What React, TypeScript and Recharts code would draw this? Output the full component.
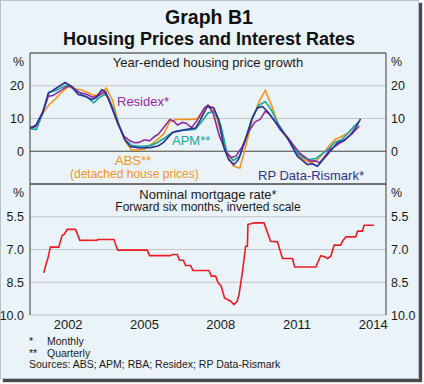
import React from 'react';
import {
  LineChart,
  Line,
  XAxis,
  YAxis,
  CartesianGrid,
  ReferenceLine,
} from 'recharts';

// [year, % change]
const rpData: [number, number][] = [
  [2001.0, 7.2], [2001.2, 7.5], [2001.5, 11.8], [2001.72, 17.8], [2001.88, 18.5],
  [2002.12, 19.7], [2002.38, 21.0], [2002.6, 20.0], [2002.9, 17.3], [2003.18, 16.7],
  [2003.43, 15.8], [2003.61, 16.4], [2003.82, 18.8], [2003.97, 18.2], [2004.09, 15.8],
  [2004.48, 8.1], [2004.72, 3.6], [2004.95, 1.4], [2005.35, 1.0], [2005.74, 1.1],
  [2006.06, 1.7], [2006.25, 2.7], [2006.6, 5.7], [2007.12, 6.6], [2007.51, 7.1],
  [2007.71, 9.7], [2007.97, 13.7], [2008.22, 13.3], [2008.42, 9.7], [2008.63, 1.0],
  [2008.81, -2.5], [2009.02, -4.1], [2009.2, -2.5], [2009.48, 3.6], [2009.72, 9.7],
  [2009.94, 13.2], [2010.14, 13.7], [2010.33, 12.2], [2010.73, 8.1], [2011.12, 4.1],
  [2011.52, -1.6], [2011.91, -4.1], [2012.1, -3.8], [2012.3, -4.6], [2012.43, -3.4],
  [2012.7, -1.0], [2013.09, 2.6], [2013.35, 3.2], [2013.61, 5.1], [2013.81, 7.2],
  [2014.0, 9.9],
];

const apmData: [number, number][] = [
  [2001.0, 7.0], [2001.25, 6.6], [2001.5, 11.5], [2001.75, 18.0], [2002.0, 18.5],
  [2002.25, 19.5], [2002.5, 20.3], [2002.75, 19.2], [2003.0, 17.6], [2003.25, 16.5],
  [2003.5, 14.8], [2003.75, 16.5], [2004.0, 17.6], [2004.25, 13.5], [2004.5, 8.0],
  [2004.75, 3.5], [2005.0, 1.8], [2005.25, 1.5], [2005.5, 1.5], [2005.75, 1.8],
  [2006.0, 2.6], [2006.25, 3.8], [2006.5, 5.2], [2006.75, 6.2], [2007.0, 6.4],
  [2007.25, 6.5], [2007.5, 6.7], [2007.75, 9.0], [2008.0, 11.7], [2008.25, 12.2],
  [2008.5, 8.0], [2008.75, -0.5], [2009.0, -2.9], [2009.25, -1.5], [2009.5, 4.5],
  [2009.75, 10.5], [2010.0, 14.0], [2010.25, 15.2], [2010.5, 12.5], [2010.75, 8.5],
  [2011.0, 5.5], [2011.25, 3.0], [2011.5, -0.5], [2011.75, -2.0], [2012.0, -2.5],
  [2012.25, -2.2], [2012.5, -0.7], [2012.75, 0.8], [2013.0, 2.8], [2013.25, 3.5],
  [2013.5, 5.5], [2013.75, 7.6], [2013.9, 8.8],
];

const absData: [number, number][] = [
  [2001.0, 7.2], [2001.25, 8.0], [2001.5, 11.5], [2001.75, 14.2], [2002.0, 16.0],
  [2002.25, 18.0], [2002.5, 19.7], [2002.75, 19.0], [2003.0, 18.8], [2003.25, 18.0],
  [2003.5, 17.0], [2003.75, 17.5], [2004.0, 19.3], [2004.25, 15.5], [2004.5, 8.0],
  [2004.75, 3.0], [2005.0, 0.3], [2005.25, 0.5], [2005.5, 0.6], [2005.75, 2.0],
  [2006.0, 3.5], [2006.25, 5.2], [2006.5, 9.0], [2006.75, 9.7], [2007.0, 9.7],
  [2007.25, 9.7], [2007.5, 9.8], [2007.75, 10.7], [2008.0, 14.2], [2008.25, 12.4],
  [2008.5, 6.0], [2008.75, -1.0], [2009.0, -4.5], [2009.25, -5.2], [2009.5, 2.0],
  [2009.75, 10.0], [2010.0, 15.0], [2010.25, 18.6], [2010.5, 14.0], [2010.75, 8.5],
  [2011.0, 5.0], [2011.25, 2.5], [2011.5, -1.0], [2011.75, -2.5], [2012.0, -3.5],
  [2012.25, -3.0], [2012.5, -1.0], [2012.75, 1.5], [2013.0, 3.6], [2013.25, 4.5],
  [2013.5, 5.5], [2013.75, 7.5], [2013.9, 8.6],
];

const residexData: [number, number][] = [
  [2001.0, 7.0], [2001.25, 8.0], [2001.5, 12.0], [2001.72, 16.8], [2001.9, 17.0],
  [2002.1, 18.0], [2002.4, 19.5], [2002.6, 20.0], [2002.9, 18.0], [2003.2, 17.5],
  [2003.45, 16.5], [2003.7, 17.0], [2003.9, 18.0], [2004.1, 16.0], [2004.45, 8.5],
  [2004.7, 4.5], [2004.95, 3.1], [2005.1, 2.6], [2005.3, 2.7], [2005.5, 3.5],
  [2005.7, 3.2], [2005.9, 4.5], [2006.05, 5.2], [2006.25, 7.2], [2006.5, 9.7],
  [2006.65, 9.2], [2006.8, 8.0], [2007.0, 8.8], [2007.15, 8.5], [2007.35, 7.2],
  [2007.55, 9.2], [2007.85, 13.2], [2008.0, 14.0], [2008.2, 11.7], [2008.45, 4.6],
  [2008.7, 0.0], [2008.9, -1.9], [2009.1, -1.5], [2009.35, 1.5], [2009.6, 6.0],
  [2009.85, 9.0], [2010.05, 9.7], [2010.25, 12.2], [2010.4, 11.5], [2010.6, 9.5],
  [2010.85, 6.5], [2011.1, 4.5], [2011.35, 2.0], [2011.6, -0.5], [2011.85, -2.0],
  [2012.0, -3.0], [2012.2, -2.9], [2012.4, -3.5], [2012.6, -1.5], [2012.8, 0.6],
  [2013.0, 1.5], [2013.2, 2.6], [2013.45, 4.0], [2013.65, 5.2], [2013.95, 7.7],
];

// nominal mortgage rate, forward six months
const mortgageData: [number, number][] = [
  [2001.54, 8.07], [2001.65, 7.6], [2001.71, 7.38], [2001.8, 6.89], [2002.13, 6.89],
  [2002.26, 6.36], [2002.35, 6.3], [2002.46, 6.08], [2002.79, 6.08], [2002.96, 6.58],
  [2003.64, 6.57], [2003.66, 6.54], [2004.3, 6.54], [2004.45, 7.03], [2005.61, 7.03],
  [2005.7, 7.28], [2006.53, 7.28], [2006.6, 7.23], [2006.79, 7.23], [2006.88, 7.49],
  [2007.03, 7.49], [2007.12, 7.73], [2007.31, 7.73], [2007.41, 7.96], [2008.04, 7.96],
  [2008.13, 8.22], [2008.3, 8.22], [2008.39, 8.5], [2008.52, 8.68], [2008.65, 9.22],
  [2008.89, 9.37], [2009.02, 9.52], [2009.15, 9.37], [2009.22, 9.06], [2009.35, 8.07],
  [2009.48, 6.85], [2009.55, 6.85], [2009.57, 5.85], [2009.68, 5.82], [2009.81, 5.78],
  [2010.2, 5.78], [2010.46, 6.62], [2010.73, 6.65], [2010.93, 7.41], [2011.32, 7.41],
  [2011.41, 7.8], [2012.24, 7.8], [2012.43, 7.28], [2012.59, 7.33], [2012.7, 7.41],
  [2012.83, 7.31], [2012.96, 6.8], [2013.22, 6.8], [2013.29, 6.62], [2013.42, 6.42],
  [2013.81, 6.42], [2013.88, 6.16], [2014.07, 6.16], [2014.14, 5.89], [2014.53, 5.89],
];

const yearDomain: [number, number] = [2001, 2015];
const yearTicks = [2002, 2003, 2004, 2005, 2006, 2007, 2008, 2009, 2010, 2011, 2012, 2013, 2014];
const yearLabels = [2002.5, 2005.5, 2008.5, 2011.5, 2014.5];
const growthTicks = [0, 10, 20, 30];
const rateTicks = [4, 5.5, 7, 8.5, 10];

const FONT = '"Liberation Sans", Arial, sans-serif';
const BORDER = '#3a3a3a';
const GRID = '#c4c4c4';

const toRows = (pts: [number, number][]) => pts.map(([year, value]) => ({ year, value }));

const makeTick = (topValue: number, fmt: (v: number) => string) => (props: any) => {
  const { x, y, payload, textAnchor } = props;
  const isTop = payload.value === topValue;
  return (
    <text
      x={x}
      y={isTop ? y + 8 : y}
      dy="0.36em"
      textAnchor={textAnchor}
      fontSize={12.5}
      fontFamily={FONT}
      fill="#1a1a1a"
    >
      {isTop ? '%' : fmt(payload.value)}
    </text>
  );
};

const UpTick = (props: any) => {
  const { x, y } = props;
  return <line x1={x} x2={x} y1={y} y2={y - 4} stroke={BORDER} strokeWidth={1} />;
};

const label = (
  text: string,
  left: number,
  top: number,
  size: number,
  color = '#1a1a1a',
  extra: React.CSSProperties = {}
) => (
  <div
    style={{
      position: 'absolute',
      left,
      top,
      fontSize: size,
      lineHeight: 1,
      color,
      fontFamily: FONT,
      whiteSpace: 'nowrap',
      ...extra,
    }}
  >
    {text}
  </div>
);

const series = [
  { key: 'abs', data: absData, color: '#f7941d' },
  { key: 'apm', data: apmData, color: '#14a89e' },
  { key: 'residex', data: residexData, color: '#8e2b9e' },
  { key: 'rp', data: rpData, color: '#2e3192' },
];

export default function App() {
  const growthTick = makeTick(30, (v) => String(v));
  const rateTick = makeTick(4, (v) => v.toFixed(1));

  return (
    <div style={{ position: 'absolute', left: 0, top: 0, width: 424, height: 384, background: '#ffffff' }}>
      <div
        style={{
          position: 'absolute',
          left: 0,
          top: 0,
          width: 417,
          height: 377,
          background: '#eaf3f8',
          border: '1px solid #b9c2c8',
          boxShadow: '3px 3px 1px #4a4a4a',
        }}
      />

      <div style={{ position: 'absolute', left: 0, top: 0 }}>
        <LineChart width={424} height={185} margin={{ top: 53, right: 0, bottom: 1, left: 0 }}>
          <CartesianGrid vertical={false} stroke={GRID} yAxisId="l" />
          <XAxis type="number" dataKey="year" domain={yearDomain} hide allowDataOverflow />
          <YAxis
            yAxisId="l"
            domain={[-10, 30]}
            ticks={growthTicks}
            width={30}
            tickLine={false}
            tickSize={4}
            tickMargin={2}
            axisLine={{ stroke: BORDER }}
            tick={growthTick}
            allowDataOverflow
          />
          <YAxis
            yAxisId="r"
            orientation="right"
            domain={[-10, 30]}
            ticks={growthTicks}
            width={38}
            tickLine={false}
            tickSize={3}
            tickMargin={2}
            axisLine={{ stroke: BORDER }}
            tick={growthTick}
            allowDataOverflow
          />
          <ReferenceLine yAxisId="l" y={0} stroke="#555" strokeWidth={1.2} />
          <ReferenceLine yAxisId="l" y={30} stroke={BORDER} />
          <ReferenceLine yAxisId="l" y={-10} stroke={BORDER} />
          {series.map((s) => (
            <Line
              key={s.key}
              yAxisId="l"
              data={toRows(s.data)}
              dataKey="value"
              type="linear"
              stroke={s.color}
              strokeWidth={1.6}
              dot={false}
              isAnimationActive={false}
            />
          ))}
        </LineChart>
      </div>

      <div style={{ position: 'absolute', left: 0, top: 0 }}>
        <LineChart width={424} height={384} margin={{ top: 184, right: 0, bottom: 49, left: 0 }}>
          <CartesianGrid vertical={false} stroke={GRID} yAxisId="l" xAxisId="tk" />
          <XAxis
            xAxisId="tk"
            type="number"
            dataKey="year"
            domain={yearDomain}
            ticks={yearTicks}
            height={0}
            mirror
            tick={false}
            tickLine={false}
            axisLine={{ stroke: BORDER }}
            allowDataOverflow
          />
          <XAxis
            xAxisId="lab"
            type="number"
            dataKey="year"
            domain={yearDomain}
            ticks={yearLabels}
            height={20}
            tickLine={false}
            axisLine={false}
            tickSize={4}
            tickMargin={1}
            tickFormatter={(v: number) => String(Math.floor(v))}
            tick={{ fontSize: 13, fontFamily: FONT, fill: '#1a1a1a' }}
            allowDataOverflow
          />
          <XAxis
            xAxisId="marks"
            type="number"
            dataKey="year"
            domain={yearDomain}
            ticks={yearTicks}
            height={0}
            mirror
            axisLine={false}
            tickLine={false}
            tick={<UpTick />}
            allowDataOverflow
          />
          <YAxis
            yAxisId="l"
            reversed
            domain={[4, 10]}
            ticks={rateTicks}
            width={30}
            tickLine={false}
            tickSize={4}
            tickMargin={2}
            axisLine={{ stroke: BORDER }}
            tick={rateTick}
            allowDataOverflow
          />
          <YAxis
            yAxisId="r"
            orientation="right"
            reversed
            domain={[4, 10]}
            ticks={rateTicks}
            width={38}
            tickLine={false}
            tickSize={3}
            tickMargin={2}
            axisLine={{ stroke: BORDER }}
            tick={rateTick}
            allowDataOverflow
          />
          <ReferenceLine yAxisId="l" xAxisId="tk" y={4} stroke={BORDER} />
          <Line
            yAxisId="l"
            xAxisId="tk"
            data={toRows(mortgageData)}
            dataKey="value"
            type="linear"
            stroke="#ed1c24"
            strokeWidth={1.6}
            dot={false}
            isAnimationActive={false}
          />
        </LineChart>
      </div>

      {label('Graph B1', 0, 8, 19.5, '#111', { width: 418, textAlign: 'center', fontWeight: 'bold' })}
      {label('Housing Prices and Interest Rates', 0, 30, 18, '#111', {
        width: 418,
        textAlign: 'center',
        fontWeight: 'bold',
      })}
      {label('Year-ended housing price growth', 30, 55.5, 13, '#1a1a1a', { width: 356, textAlign: 'center' })}
      {label('Nominal mortgage rate*', 30, 187.5, 13, '#1a1a1a', { width: 356, textAlign: 'center' })}
      {label('Forward six months, inverted scale', 30, 201, 12, '#1a1a1a', { width: 356, textAlign: 'center' })}

      {label('Residex*', 117, 95, 13, '#8e2b9e')}
      {label('APM**', 172, 133.5, 13, '#14a89e')}
      {label('ABS**', 115, 153.5, 13, '#f7941d')}
      {label('(detached house prices)', 70, 168, 12, '#f7941d')}
      {label('RP Data-Rismark*', 258, 168.5, 13, '#2e3192')}

      {label('*', 29, 335.5, 10.5)}
      {label('Monthly', 47, 335.5, 10.5)}
      {label('**', 29, 347.5, 10.5)}
      {label('Quarterly', 47, 347.5, 10.5)}
      {label('Sources: ABS; APM; RBA; Residex; RP Data-Rismark', 29, 358.5, 10.5)}
    </div>
  );
}
